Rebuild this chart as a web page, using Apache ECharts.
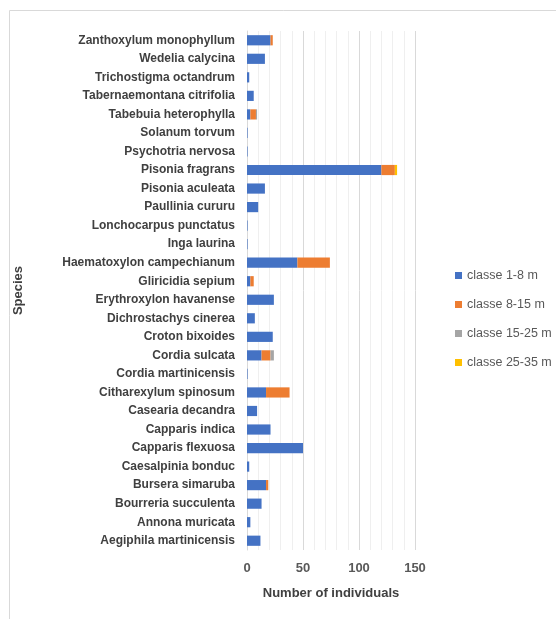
<!DOCTYPE html>
<html>
<head>
<meta charset="utf-8">
<script src="https://cdn.jsdelivr.net/npm/echarts@6/dist/echarts.min.js"></script>
<style>
  html, body { margin: 0; padding: 0; background: #fff; }
  #chart { width: 556px; height: 619px; }
</style>
</head>
<body>
<div id="chart"></div>
<script>
  // species, bottom to top
  const species = [
    'Aegiphila martinicensis', 'Annona muricata', 'Bourreria succulenta', 'Bursera simaruba',
    'Caesalpinia bonduc', 'Capparis flexuosa', 'Capparis indica', 'Casearia decandra',
    'Citharexylum spinosum', 'Cordia martinicensis', 'Cordia sulcata', 'Croton bixoides',
    'Dichrostachys cinerea', 'Erythroxylon havanense', 'Gliricidia sepium', 'Haematoxylon campechianum',
    'Inga laurina', 'Lonchocarpus punctatus', 'Paullinia cururu', 'Pisonia aculeata',
    'Pisonia fragrans', 'Psychotria nervosa', 'Solanum torvum', 'Tabebuia heterophylla',
    'Tabernaemontana citrifolia', 'Trichostigma octandrum', 'Wedelia calycina', 'Zanthoxylum monophyllum'
  ];
  const classe1_8   = [12, 3, 13, 17, 2, 50, 21, 9, 17, 0.5, 13, 23, 7, 24, 3, 45, 0.5, 0.5, 10, 16, 120, 0.5, 0.5, 3, 6, 2, 16, 21];
  const classe8_15  = [0, 0, 0, 2, 0, 0, 0, 0, 21, 0, 8, 0, 0, 0, 3, 29, 0, 0, 0, 0, 12, 0, 0, 5, 0, 0, 0, 2];
  const classe15_25 = [0, 0, 0, 0, 0, 0, 0, 0, 0, 0, 3, 0, 0, 0, 0, 0, 0, 0, 0, 0, 0, 0, 0, 1, 0, 0, 0, 0];
  const classe25_35 = [0, 0, 0, 0, 0, 0, 0, 0, 0, 0, 0, 0, 0, 0, 0, 0, 0, 0, 0, 0, 2, 0, 0, 0, 0, 0, 0, 0];
  const xTicks = [0, 50, 100, 150];

  const colors = ['#4472c4', '#ed7d31', '#a5a5a5', '#ffc000'];
  const font = 'Liberation Sans';

  const chart = echarts.init(document.getElementById('chart'));
  const bar = (name, data) => ({
    name: name,
    type: 'bar',
    stack: 'total',
    barCategoryGap: '45%',
    data: data
  });

  chart.setOption({
    color: colors,
    animation: false,
    textStyle: { fontFamily: font },
    graphic: [{
      type: 'rect',
      shape: { x: 9.5, y: 10.5, width: 600, height: 620 },
      style: { fill: 'none', stroke: '#d9d9d9', lineWidth: 1 },
      silent: true
    }],
    legend: {
      orient: 'vertical',
      left: 450,
      top: 264,
      itemWidth: 7,
      itemHeight: 7,
      itemGap: 16,
      icon: 'rect',
      textStyle: { color: '#595959', fontSize: 12.5, fontFamily: font }
    },
    grid: { left: 247, right: 141, top: 31, bottom: 69 },
    xAxis: {
      type: 'value',
      min: xTicks[0],
      max: xTicks[xTicks.length - 1],
      interval: 50,
      name: 'Number of individuals',
      nameLocation: 'middle',
      nameGap: 37,
      nameTextStyle: { color: '#404040', fontWeight: 'bold', fontSize: 13, fontFamily: font },
      axisLine: { show: false },
      axisTick: { show: false },
      axisLabel: { color: '#595959', fontWeight: 'bold', fontSize: 13, margin: 12 },
      splitLine: { lineStyle: { color: '#d9d9d9' } },
      minorTick: { show: false, splitNumber: 5 },
      minorSplitLine: { show: true, lineStyle: { color: '#efefef' } }
    },
    yAxis: {
      type: 'category',
      data: species,
      name: 'Species',
      nameLocation: 'middle',
      nameGap: 222,
      nameTextStyle: { color: '#404040', fontWeight: 'bold', fontSize: 13, fontFamily: font },
      axisLine: { show: true, lineStyle: { color: '#d9d9d9' } },
      axisTick: { show: false },
      axisLabel: { color: '#404040', fontWeight: 'bold', fontSize: 12, margin: 12, interval: 0 }
    },
    series: [
      bar('classe 1-8 m', classe1_8),
      bar('classe 8-15 m', classe8_15),
      bar('classe 15-25 m', classe15_25),
      bar('classe 25-35 m', classe25_35)
    ]
  });
  window.addEventListener('resize', function () {
    chart.resize();
  });
</script>
</body>
</html>
